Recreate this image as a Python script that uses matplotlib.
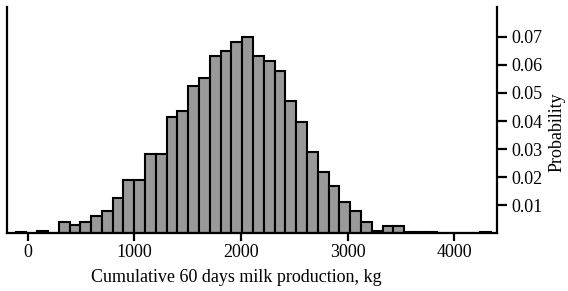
import numpy as np
import matplotlib
matplotlib.use("Agg")
import matplotlib.pyplot as plt

# histogram of cumulative 60-day milk production (bin heights)
bin_lo = -115
bin_hi = 4342
n_bins = 44
prob = [0.0004, 0.0002, 0.0008, 0.0002, 0.0040, 0.0030, 0.0040, 0.0060,
        0.0080, 0.0127, 0.0190, 0.0190, 0.0282, 0.0282, 0.0413, 0.0437,
        0.0526, 0.0554, 0.0631, 0.0649, 0.0681, 0.0701, 0.0631, 0.0613,
        0.0580, 0.0473, 0.0395, 0.0288, 0.0217, 0.0169, 0.0110, 0.0080,
        0.0038, 0.0008, 0.0025, 0.0025, 0.0004, 0.0004, 0.0004, 0.0,
        0.0, 0.0, 0.0, 0.0005]
xticks = [0, 1000, 2000, 3000, 4000]
yticks = [0.01, 0.02, 0.03, 0.04, 0.05, 0.06, 0.07]

plt.rcParams['font.family'] = ['Liberation Serif', 'DejaVu Serif']
plt.rcParams['font.size'] = 13

edges = np.linspace(bin_lo, bin_hi, n_bins + 1)
width = edges[1] - edges[0]

fig = plt.figure(figsize=(5.68, 2.91), dpi=100)
ax = fig.add_axes([0.0123, 0.199, 0.8627, 0.777])

ax.bar(edges[:-1], prob, width=width, align='edge',
       color='#999999', edgecolor='black', linewidth=1.5)

ax.set_xlim(-195, 4402)
ax.set_ylim(0, 0.0807)

ax.spines['top'].set_visible(False)
for s in ['left', 'right', 'bottom']:
    ax.spines[s].set_linewidth(1.6)

ax.yaxis.tick_right()
ax.yaxis.set_label_position('right')
ax.set_yticks(yticks)
ax.set_yticklabels(['%.2f' % v for v in yticks])
ax.set_xticks(xticks)
ax.tick_params(axis='y', direction='out', length=7, width=1.6, pad=3)
ax.tick_params(axis='x', direction='out', length=6, width=1.6, pad=2)

ax.set_xlabel('Cumulative 60 days milk production, kg')
ax.xaxis.set_label_coords(0.468, -0.16)
ax.set_ylabel('Probability')
ax.yaxis.set_label_coords(1.105, 0.447)

fig.savefig('out.png', dpi=100)
